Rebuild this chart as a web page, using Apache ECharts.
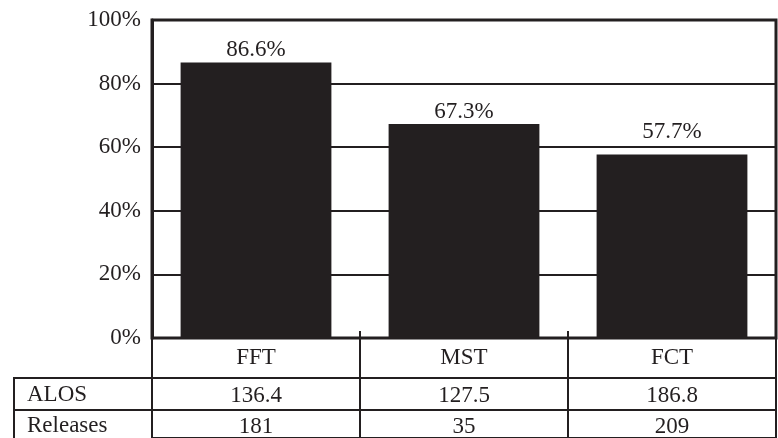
<!DOCTYPE html>
<html><head><meta charset="utf-8">
<script src="https://cdn.jsdelivr.net/npm/echarts@6/dist/echarts.min.js"></script>
<style>html,body{margin:0;padding:0;background:#fff}#c{width:778px;height:438px}</style>
</head><body><div id="c"></div>
<script>
const categories = ['FFT', 'MST', 'FCT'];
const shares = [86.6, 67.3, 57.7];
const alos = ['136.4', '127.5', '186.8'];
const releases = ['181', '35', '209'];
const rowNames = ['ALOS', 'Releases'];
const yTicks = [0, 20, 40, 60, 80, 100];

const INK = '#231f20';
const FONT = 'Liberation Serif';
const FS = 23;
const labelGaps = [1, 1, 11];
const chart = echarts.init(document.getElementById('c'), null, {renderer: 'canvas'});

function tableAxis(data, offset, tickLen, margin, showLabel) {
  return {
    type: 'category', data: data, position: 'bottom', offset: offset,
    boundaryGap: true,
    axisLine: {show: true, lineStyle: {color: INK, width: 2}},
    axisTick: {show: true, inside: true, length: tickLen, interval: 0, lineStyle: {color: INK, width: 2}},
    axisLabel: {show: showLabel, interval: 0, margin: margin, color: INK, fontFamily: FONT, fontSize: FS},
    splitLine: {show: false}
  };
}

chart.setOption({
  animation: false,
  backgroundColor: '#fff',
  grid: {left: 152, right: 2, top: 20, bottom: 100, show: true, borderColor: INK, borderWidth: 3, backgroundColor: 'transparent'},
  xAxis: [
    {
      type: 'category', data: categories, position: 'bottom', boundaryGap: true,
      axisLine: {show: true, lineStyle: {color: INK, width: 2}},
      axisTick: {show: true, inside: true, length: 7, interval: 0, lineStyle: {color: INK, width: 2}},
      axisLabel: {interval: 0, margin: 8, color: INK, fontFamily: FONT, fontSize: FS},
      splitLine: {show: false}
    },
    tableAxis(alos, 40, 40, 6, true),
    tableAxis(releases, 72, 32, 5, true),
    tableAxis(['', '', ''], 100, 28, 4, false)
  ],
  yAxis: {
    type: 'value', min: yTicks[0], max: yTicks[yTicks.length - 1], interval: 20,
    axisLine: {show: true, lineStyle: {color: INK, width: 3}},
    axisTick: {show: false},
    axisLabel: {formatter: '{value}%', margin: 11, padding: [7, 0, 0, 0], color: INK, fontFamily: FONT, fontSize: FS},
    splitLine: {show: true, lineStyle: {color: INK, width: 2}}
  },
  series: [{
    type: 'bar', xAxisIndex: 0, barWidth: '72.5%',
    data: shares.map((v, i) => ({value: v, label: {distance: labelGaps[i]}})),
    itemStyle: {color: INK},
    label: {show: true, position: 'top', formatter: p => p.value.toFixed(1) + '%', color: INK, fontFamily: FONT, fontSize: FS}
  }],
  graphic: [
    {type: 'line', shape: {x1: 14, y1: 378, x2: 152, y2: 378}, style: {stroke: INK, lineWidth: 2}},
    {type: 'line', shape: {x1: 14, y1: 410, x2: 152, y2: 410}, style: {stroke: INK, lineWidth: 2}},
    {type: 'line', shape: {x1: 14, y1: 377, x2: 14, y2: 438}, style: {stroke: INK, lineWidth: 2}},
    {type: 'text', x: 27, y: 395, style: {text: rowNames[0], fill: INK, font: FS + 'px "' + FONT + '"', verticalAlign: 'middle', textVerticalAlign: 'middle'}},
    {type: 'text', x: 27, y: 426, style: {text: rowNames[1], fill: INK, font: FS + 'px "' + FONT + '"', verticalAlign: 'middle', textVerticalAlign: 'middle'}}
  ]
});
</script></body></html>
